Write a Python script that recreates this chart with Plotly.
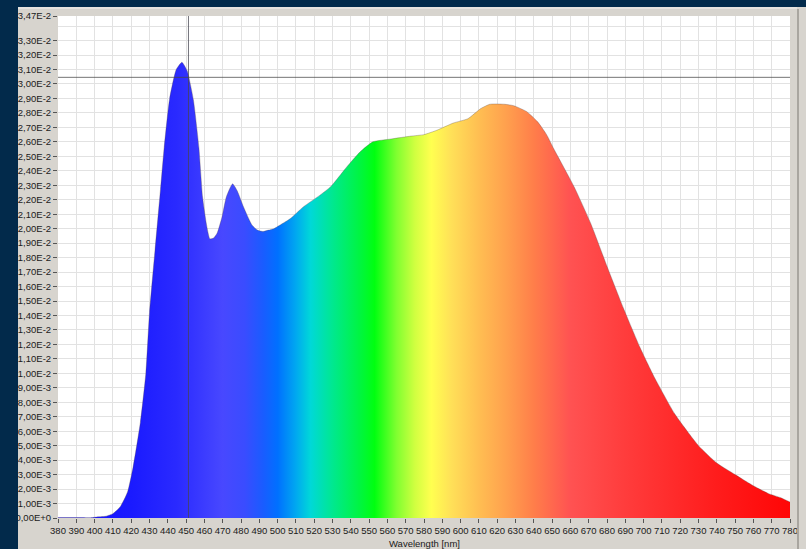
import plotly.graph_objects as go

# ---------------- data ----------------
wavelength_nm = [380, 390, 398, 402, 406, 410, 414, 418, 421, 425, 428, 430, 433, 436,
                 438, 441, 444.6, 447.7, 450.6, 454, 457, 459, 461, 463, 465,
                 467, 469.6, 472, 475.4, 478, 481.4, 486, 489, 492, 495, 498, 502,
                 507, 514, 523, 529, 538, 545, 552, 562, 573, 580, 587, 596, 604,
                 611, 616, 624, 629, 636, 642, 647, 651, 662, 671, 680, 689, 698,
                 706, 717, 730, 740, 750, 759, 768, 775, 780]
irradiance = [0.00003, 0.00003, 0.00002, 0.00008, 0.00012, 0.00030, 0.00078, 0.0018,
              0.0035, 0.0066, 0.0100, 0.0142, 0.0185, 0.0227, 0.0256, 0.0290, 0.0310,
              0.0315, 0.0309, 0.0289, 0.0256, 0.0222, 0.0204, 0.0193, 0.01935,
              0.0197, 0.0208, 0.0222, 0.0231, 0.0226, 0.0215, 0.02025, 0.0199, 0.0198,
              0.0199, 0.0200, 0.0203, 0.0207, 0.0215, 0.0223, 0.0229, 0.0243, 0.0253,
              0.0260, 0.0262, 0.0264, 0.0265, 0.0268, 0.0273, 0.0276, 0.0283, 0.0286,
              0.0286, 0.0285, 0.0281, 0.0274, 0.0265, 0.0255, 0.0229, 0.0204, 0.0174,
              0.0145, 0.0118, 0.0097, 0.0072, 0.0050, 0.0038, 0.0030, 0.0023, 0.0017,
              0.0014, 0.0011]

cursor_wavelength = 451.3
cursor_value = 0.03046

x_tick_values = list(range(380, 781, 10))
x_tick_labels = [str(v) for v in x_tick_values]

y_tick_values = [0.000, 0.001, 0.002, 0.003, 0.004, 0.005, 0.006, 0.007, 0.008, 0.009,
                 0.010, 0.011, 0.012, 0.013, 0.014, 0.015, 0.016, 0.017, 0.018, 0.019,
                 0.020, 0.021, 0.022, 0.023, 0.024, 0.025, 0.026, 0.027, 0.028, 0.029,
                 0.030, 0.031, 0.032, 0.033, 0.0347]
y_tick_labels = ["0,00E+0", "1,00E-3", "2,00E-3", "3,00E-3", "4,00E-3", "5,00E-3",
                 "6,00E-3", "7,00E-3", "8,00E-3", "9,00E-3", "1,00E-2", "1,10E-2",
                 "1,20E-2", "1,30E-2", "1,40E-2", "1,50E-2", "1,60E-2", "1,70E-2",
                 "1,80E-2", "1,90E-2", "2,00E-2", "2,10E-2", "2,20E-2", "2,30E-2",
                 "2,40E-2", "2,50E-2", "2,60E-2", "2,70E-2", "2,80E-2", "2,90E-2",
                 "3,00E-2", "3,10E-2", "3,20E-2", "3,30E-2", "3,47E-2"]
y_extra_grid = [0.034]

# spectrum colour stops: (wavelength, colour)
spectrum_stops_nm = [380, 420, 445, 460, 470, 482, 492, 500, 510, 518, 530, 545, 553,
                     565, 575, 584, 595, 610, 625, 640, 660, 690, 740, 780]
spectrum_colors = ["#1212ff", "#1a1aff", "#2a2aff", "#3c3cff", "#4848ff", "#3a4cff",
                   "#1a5cff", "#0070ff", "#00a8f0", "#00d8d8", "#00e890", "#00f540",
                   "#00ff10", "#80ff30", "#d0ff40", "#ffff50", "#ffe058", "#ffbe52",
                   "#ffa04e", "#ff7e4a", "#ff5252", "#ff3c3c", "#ff1c1c", "#ff0606"]

X_MIN, X_MAX = 380, 780
Y_MAX = 0.0347

# ---------------- figure ----------------
W, H = 806, 549
ML, MR, MT, MB = 58, 16, 16, 31
PW, PH = W - ML - MR, H - MT - MB

def px_x(X):
    return (X - ML) / PW

def px_y(Y):
    return (H - MB - Y) / PH

colorscale = [[(w - X_MIN) / (X_MAX - X_MIN), c] for w, c in zip(spectrum_stops_nm, spectrum_colors)]

fig = go.Figure()
fig.add_trace(go.Scatter(
    x=wavelength_nm, y=irradiance, mode="lines",
    line=dict(color="rgba(90,70,70,0.45)", width=0.7, shape="spline", smoothing=0.5),
    fill="tozeroy",
    fillgradient=dict(type="horizontal", colorscale=colorscale, start=X_MIN, stop=X_MAX),
    hoverinfo="skip", showlegend=False,
))

navy = "#022a4b"
panel = "#d7d4ce"
shapes = [
    dict(type="rect", xref="paper", yref="paper", x0=-0.2, x1=px_x(18), y0=-0.2, y1=1.2,
         fillcolor=navy, line=dict(width=0), layer="above"),
    dict(type="rect", xref="paper", yref="paper", x0=-0.2, x1=1.2, y0=px_y(7), y1=1.2,
         fillcolor=navy, line=dict(width=0), layer="above"),
    dict(type="line", xref="paper", yref="paper", x0=px_x(798), x1=px_x(798), y0=-0.2, y1=px_y(9),
         line=dict(color="#a9a6a0", width=2), layer="above"),
    dict(type="line", xref="paper", yref="paper", x0=px_x(18), x1=px_x(797), y0=px_y(8), y1=px_y(8),
         line=dict(color="#ebe9e5", width=1.5), layer="above"),
    dict(type="line", xref="x", yref="paper", x0=cursor_wavelength, x1=cursor_wavelength, y0=0, y1=1,
         line=dict(color="rgba(70,70,80,0.75)", width=1), layer="above"),
    dict(type="line", xref="paper", yref="y", x0=0, x1=1, y0=cursor_value, y1=cursor_value,
         line=dict(color="rgba(70,70,70,0.75)", width=1), layer="above"),
]

tick_font = dict(family="Liberation Sans, Arial", size=9.5, color="#1a1a1a")

fig.update_layout(
    template="none",
    width=W, height=H,
    margin=dict(l=ML, r=MR, t=MT, b=MB, pad=0),
    paper_bgcolor=panel, plot_bgcolor="white",
    shapes=shapes,
    xaxis=dict(range=[X_MIN, X_MAX], tickmode="array", tickvals=x_tick_values, ticktext=x_tick_labels,
               showgrid=True, gridcolor="#e2e2e2", gridwidth=1, zeroline=False, showline=False,
               ticks="outside", ticklen=4, tickcolor="#555555", tickfont=tick_font,
               tickangle=0, automargin=False),
    yaxis=dict(range=[0, Y_MAX], tickmode="array", tickvals=y_tick_values, ticktext=y_tick_labels,
               showgrid=True, gridcolor="#e2e2e2", gridwidth=1, zeroline=False, showline=False,
               ticks="outside", ticklen=4, tickcolor="#555555", tickfont=tick_font,
               automargin=False,
               minor=dict(tickmode="array", tickvals=y_extra_grid, showgrid=True, gridcolor="#e2e2e2",
                          ticklen=0)),
    annotations=[dict(text="Wavelength [nm]", xref="paper", yref="paper", x=0.5, y=px_y(543),
                      xanchor="center", yanchor="middle", showarrow=False,
                      font=dict(family="Liberation Sans, Arial", size=9.5, color="#1a1a1a"))],
)

fig.write_html(
    "out.html",
    config={"displayModeBar": False, "staticPlot": True},
    post_script="document.body.style.margin='0';document.body.style.padding='0';"
                "document.body.style.background='" + navy + "';document.body.style.overflow='hidden';",
)
